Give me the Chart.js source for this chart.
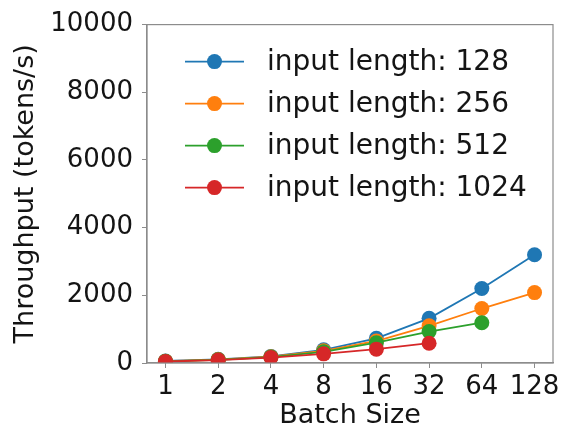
<!DOCTYPE html>
<html>
<head>
<meta charset="utf-8">
<script src="https://cdn.jsdelivr.net/npm/chart.js@4.4.1/dist/chart.umd.min.js"></script>
<style>
  html, body { margin: 0; padding: 0; background: #fff; }
  #wrap { width: 566px; height: 433px; }
</style>
</head>
<body>
<div id="wrap"><canvas id="myChart" width="566" height="433"></canvas></div>
<script>
// batch sizes on the x axis
const batchSizes = ["1", "2", "4", "8", "16", "32", "64", "128"];

// throughput (tokens/s) per input length
const tput128  = [60, 110, 195, 390, 730, 1320, 2200, 3200];
const tput256  = [55, 100, 185, 360, 650, 1100, 1610, 2080];
const tput512  = [50, 95, 175, 330, 600, 930, 1190];
const tput1024 = [45, 85, 160, 270, 410, 585];

const seriesNames = ["input length: 128", "input length: 256", "input length: 512", "input length: 1024"];
const seriesColors = ["#1f77b4", "#ff7f0e", "#2ca02c", "#d62728"];
const seriesValues = [tput128, tput256, tput512, tput1024];

const FONT = "'DejaVu Sans', sans-serif";
const TEXT = "#141414";
const SPINE = "#8c8c8c";

function toPoints(vals){
  return vals.map((v, i) => ({x: i, y: v}));
}

// matplotlib style legend inside the axes, top left
const insideLegend = {
  id: 'insideLegend',
  afterDraw(chart){
    const ctx = chart.ctx;
    const a = chart.chartArea;
    ctx.save();
    // full box around the plot
    ctx.strokeStyle = SPINE;
    ctx.lineWidth = 1.2;
    ctx.strokeRect(a.left, a.top, a.right - a.left, a.bottom - a.top);

    ctx.font = "28px " + FONT;
    ctx.textBaseline = "middle";
    ctx.textAlign = "left";
    chart.data.datasets.forEach((ds, i) => {
      const y = a.top + 37 + i * 42;
      const x0 = a.left + 38;
      ctx.strokeStyle = ds.borderColor;
      ctx.lineWidth = 1.8;
      ctx.beginPath();
      ctx.moveTo(x0, y);
      ctx.lineTo(x0 + 59, y);
      ctx.stroke();
      ctx.fillStyle = ds.pointBackgroundColor;
      ctx.beginPath();
      ctx.arc(x0 + 29.5, y, 7.5, 0, Math.PI * 2);
      ctx.fill();
      ctx.fillStyle = TEXT;
      ctx.fillText(ds.label, a.left + 120, y + 1);
    });
    ctx.restore();
  }
};

new Chart("myChart", {
  type: "line",
  data: {
    datasets: seriesValues.map((vals, i) => ({
      label: seriesNames[i],
      data: toPoints(vals),
      borderColor: seriesColors[i],
      backgroundColor: seriesColors[i],
      pointBackgroundColor: seriesColors[i],
      pointBorderColor: seriesColors[i],
      pointRadius: 7.5,
      pointBorderWidth: 0,
      borderWidth: 1.8,
      tension: 0,
      order: seriesValues.length - i
    }))
  },
  options: {
    responsive: false,
    animation: false,
    layout: { padding: { top: 22, right: 13, left: 0, bottom: 0 } },
    plugins: {
      legend: { display: false },
      tooltip: { enabled: false }
    },
    scales: {
      x: {
        type: 'linear',
        min: -0.35,
        max: batchSizes.length - 1 + 0.35,
        afterBuildTicks(scale){
          scale.ticks = batchSizes.map((_, i) => ({value: i}));
        },
        afterFit(scale){ scale.height = 70; },
        ticks: {
          callback: (v) => batchSizes[v],
          font: { family: FONT, size: 26 },
          color: TEXT,
          padding: 4,
          maxRotation: 0,
          autoSkip: false
        },
        grid: { drawOnChartArea: false, tickLength: 5, color: SPINE, tickColor: SPINE },
        border: { color: SPINE, width: 1.2 },
        title: {
          display: true,
          text: "Batch Size",
          font: { family: FONT, size: 27 },
          color: TEXT,
          padding: { top: 0, bottom: 1 }
        }
      },
      y: {
        min: 0,
        max: 10000,
        afterFit(scale){ scale.width = 147; },
        ticks: {
          stepSize: 2000,
          callback: (v) => String(v),
          font: { family: FONT, size: 26 },
          color: TEXT,
          padding: 9
        },
        grid: { drawOnChartArea: false, tickLength: 5, color: SPINE, tickColor: SPINE },
        border: { color: SPINE, width: 1.2 },
        title: {
          display: true,
          text: "Throughput (tokens/s)",
          font: { family: FONT, size: 27 },
          color: TEXT,
          padding: { top: 10, bottom: 0 }
        }
      }
    }
  },
  plugins: [insideLegend]
});
</script>
</body>
</html>
